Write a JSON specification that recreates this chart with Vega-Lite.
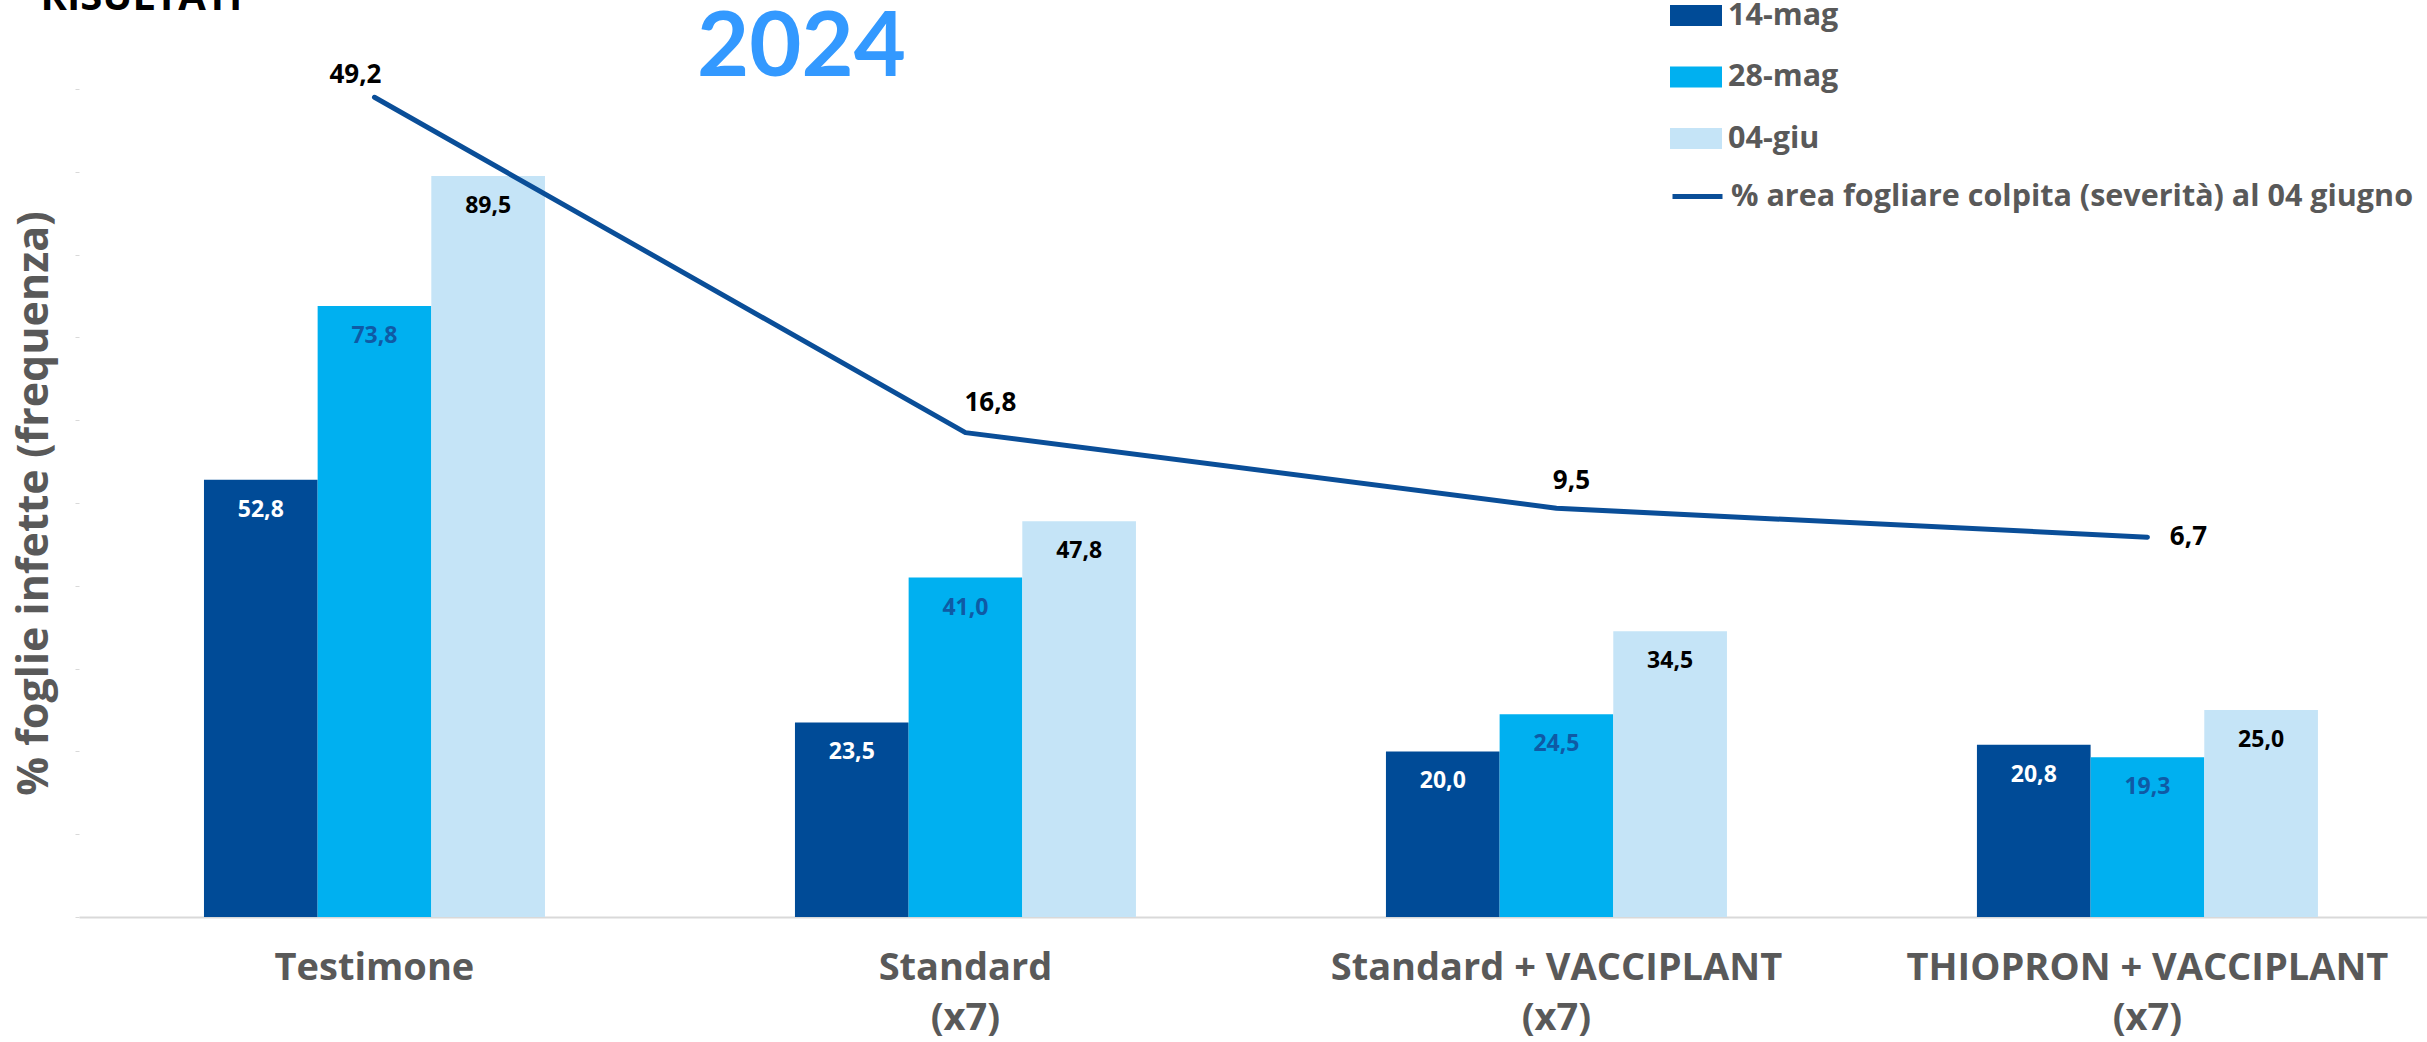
{
  "$schema": "https://vega.github.io/schema/vega-lite/v6.json",
  "autosize": {"type": "none"},
  "width": 2348,
  "height": 828,
  "padding": {"left": 79, "top": 89, "right": 0, "bottom": 125},
  "background": "white",
  "config": {
    "view": {"stroke": null},
    "font": "Open Sans",
    "locale": {"number": {"decimal": ",", "thousands": ".", "grouping": [3], "currency": ["", " €"]}}
  },
  "datasets": {
    "bars": [
      {"cat": "Testimone", "data": "14-mag", "value": 52.8},
      {"cat": "Testimone", "data": "28-mag", "value": 73.8},
      {"cat": "Testimone", "data": "04-giu", "value": 89.5},
      {"cat": "Standard (x7)", "data": "14-mag", "value": 23.5},
      {"cat": "Standard (x7)", "data": "28-mag", "value": 41.0},
      {"cat": "Standard (x7)", "data": "04-giu", "value": 47.8},
      {"cat": "Standard + VACCIPLANT (x7)", "data": "14-mag", "value": 20.0},
      {"cat": "Standard + VACCIPLANT (x7)", "data": "28-mag", "value": 24.5},
      {"cat": "Standard + VACCIPLANT (x7)", "data": "04-giu", "value": 34.5},
      {"cat": "THIOPRON + VACCIPLANT (x7)", "data": "14-mag", "value": 20.8},
      {"cat": "THIOPRON + VACCIPLANT (x7)", "data": "28-mag", "value": 19.3},
      {"cat": "THIOPRON + VACCIPLANT (x7)", "data": "04-giu", "value": 25.0}
    ],
    "line": [
      {"cat": "Testimone", "sev": 49.2},
      {"cat": "Standard (x7)", "sev": 16.8},
      {"cat": "Standard + VACCIPLANT (x7)", "sev": 9.5},
      {"cat": "THIOPRON + VACCIPLANT (x7)", "sev": 6.7}
    ]
  },
  "resolve": {"scale": {"y": "independent"}, "axis": {"x": "independent", "y": "independent"}},
  "layer": [
    {
      "data": {"name": "bars"},
      "encoding": {
        "x": {
          "field": "cat", "type": "nominal",
          "scale": {"domain": ["Testimone", "Standard (x7)", "Standard + VACCIPLANT (x7)", "THIOPRON + VACCIPLANT (x7)"], "paddingInner": 0.423, "paddingOuter": 0.198, "align": 0.534},
          "axis": {
            "orient": "bottom", "title": null, "ticks": false,
            "domainColor": "#D9D9D9", "domainWidth": 2,
            "labelAngle": 0, "labelFontSize": 38, "labelFontWeight": "bold", "labelColor": "#595959",
            "labelPadding": 32, "labelLineHeight": 50, "labelBaseline": "top", "labelLimit": 1000,
            "labelExpr": "datum.label == 'Testimone' ? datum.label : [replace(datum.label, ' (x7)', ''), '(x7)']"
          }
        },
        "xOffset": {"field": "data", "type": "nominal", "scale": {"domain": ["14-mag", "28-mag", "04-giu"], "paddingInner": 0, "paddingOuter": 0}},
        "y": {
          "field": "value", "type": "quantitative",
          "scale": {"domain": [0, 100], "nice": false},
          "axis": {
            "orient": "left", "labels": false, "domain": false, "grid": false,
            "values": [0, 10, 20, 30, 40, 50, 60, 70, 80, 90, 100],
            "tickColor": "#D9D9D9", "tickSize": 4,
            "title": "% foglie infette (frequenza)", "titleFontSize": 43, "titleFontWeight": "bold", "titleColor": "#595959",
            "titleAngle": -90, "titleX": -45, "titleY": 414, "titleAlign": "center", "titleBaseline": "middle", "titleLimit": 1000
          }
        }
      },
      "layer": [
        {
          "mark": {"type": "bar"},
          "encoding": {
            "color": {
              "field": "data", "type": "nominal",
              "scale": {"domain": ["14-mag", "28-mag", "04-giu"], "range": ["#004B97", "#00B0F0", "#C5E4F7"]},
              "legend": {
                "orient": "none", "legendX": 1591, "legendY": -99.5, "title": null, "padding": 0,
                "symbolType": "M-1,-0.4H1V0.4H-1Z", "symbolSize": 2704, "symbolStrokeWidth": 0, "symbolOpacity": 1,
                "labelFontSize": 30.5, "labelFontWeight": "bold", "labelColor": "#595959", "labelOffset": 6, "labelLimit": 1000,
                "rowPadding": 19.5
              }
            }
          }
        },
        {
          "mark": {"type": "text", "dy": 30, "fontSize": 23, "fontWeight": "bold", "baseline": "middle", "align": "center"},
          "encoding": {
            "text": {"field": "value", "type": "quantitative", "format": ".1f"},
            "color": {
              "condition": [
                {"test": "datum.data == '14-mag'", "value": "#FFFFFF"},
                {"test": "datum.data == '28-mag'", "value": "#0F5AA5"}
              ],
              "value": "#000000"
            }
          }
        }
      ]
    },
    {
      "data": {"name": "line"},
      "encoding": {
        "x": {
          "field": "cat", "type": "nominal",
          "axis": {
            "orient": "top", "labels": false, "ticks": false, "domain": false, "grid": false,
            "title": "RISULTATI", "titleX": -39, "titleY": -80, "titleAlign": "left", "titleBaseline": "alphabetic",
            "titleFontSize": 40, "titleFontWeight": "bold", "titleColor": "#000000"
          }
        },
        "y": {
          "field": "sev", "type": "quantitative",
          "scale": {"domain": [-30, 50], "nice": false},
          "axis": {
            "orient": "right", "labels": false, "ticks": false, "domain": false, "grid": false,
            "title": "2024", "titleAngle": 0, "titleX": -1626, "titleY": -41, "titleAlign": "center", "titleBaseline": "middle",
            "titleFont": "Lato", "titleFontSize": 90, "titleFontWeight": "bold", "titleColor": "#3399FF"
          }
        }
      },
      "layer": [
        {
          "mark": {"type": "line", "strokeWidth": 5, "strokeCap": "round", "strokeJoin": "round"},
          "encoding": {
            "stroke": {
              "datum": "% area fogliare colpita (severità) al 04 giugno",
              "type": "nominal",
              "scale": {"range": ["#0A4E98"]},
              "legend": {
                "orient": "none", "legendX": 1591, "legendY": 80, "title": null, "padding": 0,
                "symbolType": "stroke", "symbolSize": 2500, "symbolStrokeWidth": 5,
                "labelFontSize": 30.5, "labelFontWeight": "bold", "labelColor": "#595959", "labelOffset": 6, "labelLimit": 1000
              }
            }
          }
        },
        {
          "transform": [{"filter": "datum.cat == 'Testimone'"}],
          "mark": {"type": "text", "dx": -19, "dy": -22, "fontSize": 26, "fontWeight": "bold", "color": "#000000", "baseline": "middle"},
          "encoding": {"text": {"field": "sev", "type": "quantitative", "format": ".1f"}}
        },
        {
          "transform": [{"filter": "datum.cat == 'Standard (x7)'"}],
          "mark": {"type": "text", "dx": 25, "dy": -30, "fontSize": 26, "fontWeight": "bold", "color": "#000000", "baseline": "middle"},
          "encoding": {"text": {"field": "sev", "type": "quantitative", "format": ".1f"}}
        },
        {
          "transform": [{"filter": "datum.cat == 'Standard + VACCIPLANT (x7)'"}],
          "mark": {"type": "text", "dx": 15, "dy": -27, "fontSize": 26, "fontWeight": "bold", "color": "#000000", "baseline": "middle"},
          "encoding": {"text": {"field": "sev", "type": "quantitative", "format": ".1f"}}
        },
        {
          "transform": [{"filter": "datum.cat == 'THIOPRON + VACCIPLANT (x7)'"}],
          "mark": {"type": "text", "dx": 41, "dy": 0, "fontSize": 26, "fontWeight": "bold", "color": "#000000", "baseline": "middle"},
          "encoding": {"text": {"field": "sev", "type": "quantitative", "format": ".1f"}}
        }
      ]
    }
  ]
}
